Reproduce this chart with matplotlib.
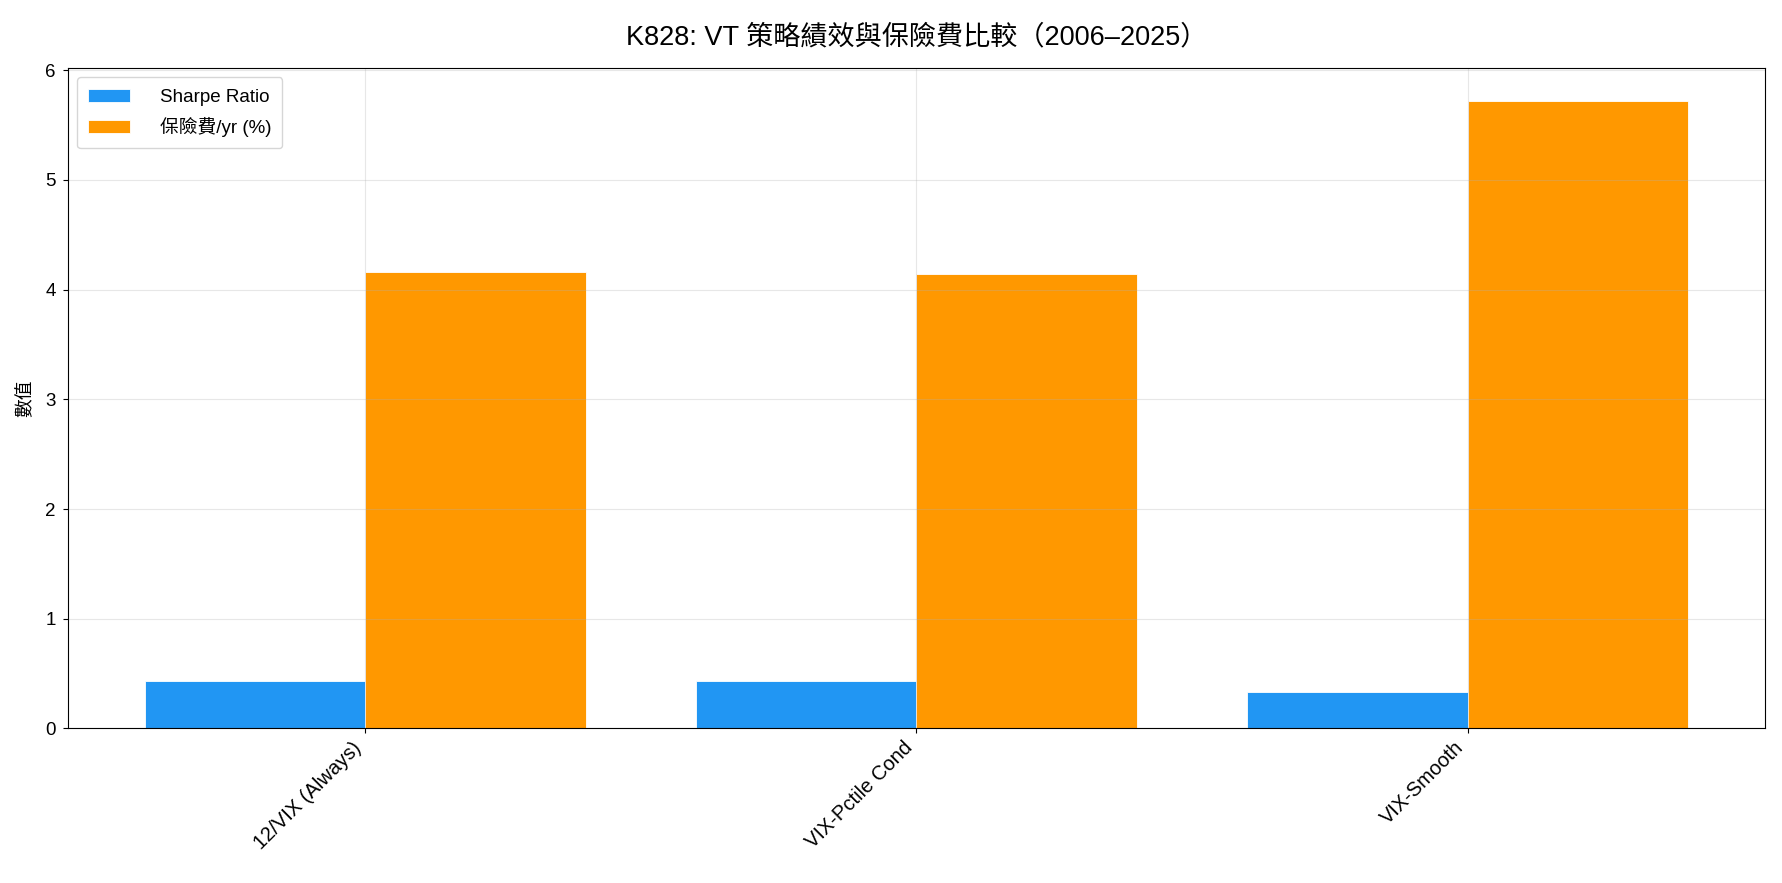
import numpy as np
import matplotlib
matplotlib.use("Agg")
import matplotlib.pyplot as plt

plt.rcParams['font.family'] = ['Liberation Sans', 'Noto Sans CJK TC', 'DejaVu Sans']
plt.rcParams['axes.unicode_minus'] = False

# Data
strategies = ["12/VIX (Always)", "VIX-Pctile Cond", "VIX-Smooth"]
sharpe = [0.43, 0.43, 0.33]
premium = [4.16, 4.14, 5.72]

x = np.arange(len(strategies))
w = 0.4

fig, ax = plt.subplots(figsize=(17.83, 8.83), dpi=100)
fig.subplots_adjust(left=0.038, right=0.990, top=0.923, bottom=0.175)

ax.bar(x - w/2, sharpe, w, label="Sharpe Ratio", color="#2196F3",
       edgecolor="white", linewidth=0.6)
ax.bar(x + w/2, premium, w, label="保險費/yr (%)", color="#FF9800",
       edgecolor="white", linewidth=0.6)

ax.set_xticks(x)
ax.set_xticklabels(strategies, rotation=45, ha="right", fontsize=14.5)
ax.tick_params(axis="y", labelsize=13.5, pad=5)
ax.set_ylabel("數值", fontsize=13.5, labelpad=8)
ax.set_title("K828: VT 策略績效與保險費比較（2006–2025）", fontsize=19.5, pad=17)
ax.set_ylim(0, 6.02)
ax.grid(alpha=0.3)
ax.legend(loc="upper left", fontsize=13.5, handlelength=2.2, handletextpad=1.6,
          labelspacing=0.6, borderpad=0.6)

fig.savefig("out.png", dpi=100)
